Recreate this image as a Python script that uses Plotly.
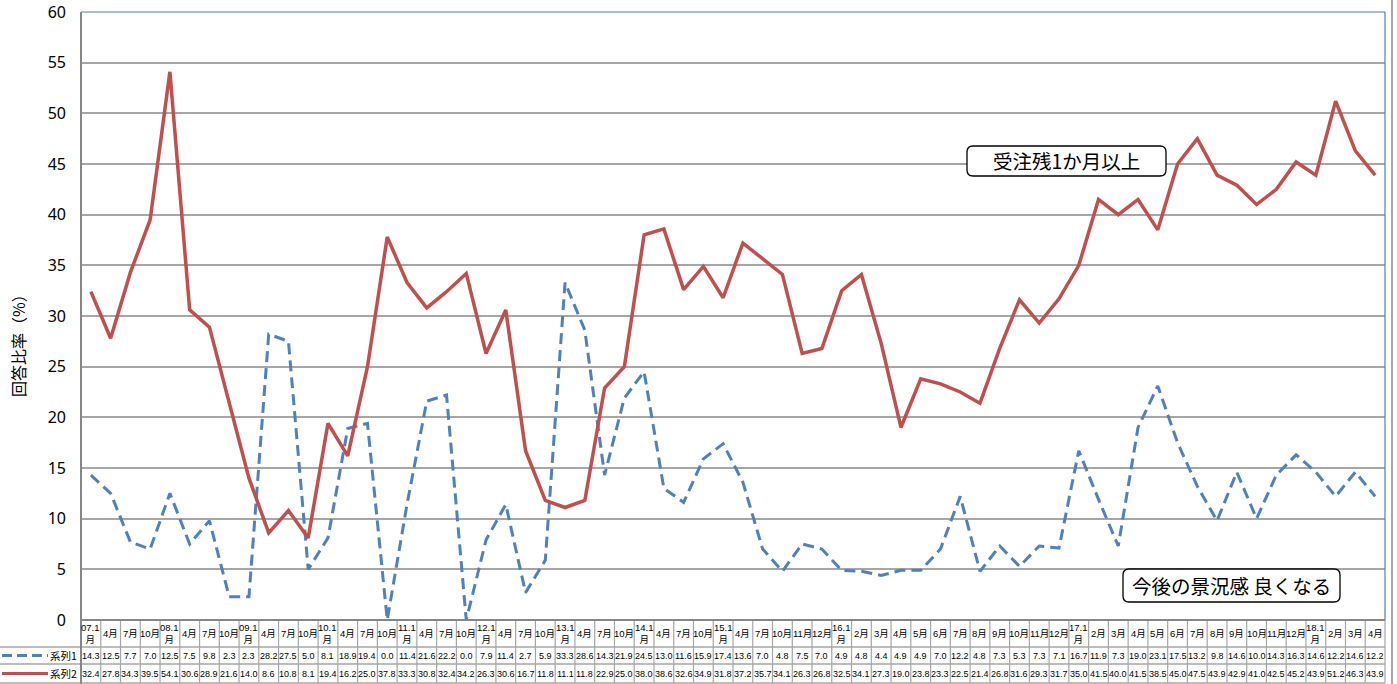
import plotly.graph_objects as go

categories = ["07.1月", "4月", "7月", "10月", "08.1月", "4月", "7月", "10月",
              "09.1月", "4月", "7月", "10月", "10.1月", "4月", "7月", "10月",
              "11.1月", "4月", "7月", "10月", "12.1月", "4月", "7月", "10月",
              "13.1月", "4月", "7月", "10月", "14.1月", "4月", "7月", "10月",
              "15.1月", "4月", "7月", "10月", "11月", "12月",
              "16.1月", "2月", "3月", "4月", "5月", "6月", "7月", "8月", "9月", "10月", "11月", "12月",
              "17.1月", "2月", "3月", "4月", "5月", "6月", "7月", "8月", "9月", "10月", "11月", "12月",
              "18.1月", "2月", "3月", "4月"]

series1 = [14.3, 12.5, 7.7, 7.0, 12.5, 7.5, 9.8, 2.3, 2.3, 28.2, 27.5, 5.0, 8.1, 18.9,
           19.4, 0.0, 11.4, 21.6, 22.2, 0.0, 7.9, 11.4, 2.7, 5.9, 33.3, 28.6, 14.3, 21.9,
           24.5, 13.0, 11.6, 15.9, 17.4, 13.6, 7.0, 4.8, 7.5, 7.0, 4.9, 4.8, 4.4, 4.9,
           4.9, 7.0, 12.2, 4.8, 7.3, 5.3, 7.3, 7.1, 16.7, 11.9, 7.3, 19.0, 23.1, 17.5,
           13.2, 9.8, 14.6, 10.0, 14.3, 16.3, 14.6, 12.2, 14.6, 12.2]

series2 = [32.4, 27.8, 34.3, 39.5, 54.1, 30.6, 28.9, 21.6, 14.0, 8.6, 10.8, 8.1, 19.4, 16.2,
           25.0, 37.8, 33.3, 30.8, 32.4, 34.2, 26.3, 30.6, 16.7, 11.8, 11.1, 11.8, 22.9, 25.0,
           38.0, 38.6, 32.6, 34.9, 31.8, 37.2, 35.7, 34.1, 26.3, 26.8, 32.5, 34.1, 27.3, 19.0,
           23.8, 23.3, 22.5, 21.4, 26.8, 31.6, 29.3, 31.7, 35.0, 41.5, 40.0, 41.5, 38.5, 45.0,
           47.5, 43.9, 42.9, 41.0, 42.5, 45.2, 43.9, 51.2, 46.3, 43.9]

series_names = ["系列1", "系列2"]
y_ticks = list(range(0, 61, 5))
label_top = "受注残1か月以上"
label_bottom = "今後の景況感 良くなる"
y_title = "回答比率（%）"

W, H = 1397, 684
L, R, T, B = 81, 1385, 12, 620
n = len(categories)
colw = (R - L) / n


def px(x):
    return (x - L) / (R - L)


def py(y):
    return (B - y) / (B - T)


BLUE = "#4F81BD"
RED = "#C0504D"
GRID = "#A6A6A6"
AXIS = "#868686"
TXT_FONT = "Liberation Sans, Noto Sans CJK JP, sans-serif"
JP_FONT = "Noto Sans CJK JP, sans-serif"

fig = go.Figure()
xs = list(range(n))
fig.add_trace(go.Scatter(x=xs, y=series1, mode="lines", name=series_names[0],
                         line=dict(color=BLUE, width=3, dash="11px,6px")))
fig.add_trace(go.Scatter(x=xs, y=series2, mode="lines", name=series_names[1],
                         line=dict(color=RED, width=3.5)))

shapes = []


def hline(y, x0, x1, color, width, dash=None):
    shapes.append(dict(type="line", xref="paper", yref="paper",
                       x0=px(x0), x1=px(x1), y0=py(y), y1=py(y),
                       line=dict(color=color, width=width, dash=dash), layer="above"))


def vline(x, y0, y1, color, width):
    shapes.append(dict(type="line", xref="paper", yref="paper",
                       x0=px(x), x1=px(x), y0=py(y0), y1=py(y1),
                       line=dict(color=color, width=width), layer="above"))


# table grid
for yy in (647, 664, 683):
    hline(yy, 0, R, GRID, 1.5)
for i in range(1, n + 1):
    vline(L + i * colw, 620, 683, GRID, 1.2)
# plot border (blue top/right)
hline(T, L, R, "#4A7EBB", 1.2)
vline(R, T, B, "#4A7EBB", 1.2)
# axes lines
vline(L, T, 684, AXIS, 2)
hline(B, L, R, AXIS, 2)
# outer chart border on right
vline(1392, 0, 684, GRID, 2)

# legend keys in table
for yy, col, dash in ((655.5, BLUE, "10px,5px"), (673.5, RED, None)):
    shapes.append(dict(type="line", xref="paper", yref="paper",
                       x0=px(2), x1=px(48), y0=py(yy), y1=py(yy),
                       line=dict(color=col, width=3, dash=dash), layer="above"))


def rrect(x0, y0, x1, y1, r):
    def P(x, y):
        return f"{px(x):.5f},{py(y):.5f}"
    return (f"M {P(x0 + r, y0)} L {P(x1 - r, y0)} Q {P(x1, y0)} {P(x1, y0 + r)} "
            f"L {P(x1, y1 - r)} Q {P(x1, y1)} {P(x1 - r, y1)} L {P(x0 + r, y1)} "
            f"Q {P(x0, y1)} {P(x0, y1 - r)} L {P(x0, y0 + r)} Q {P(x0, y0)} {P(x0 + r, y0)} Z")


for (x0, y0, x1, y1) in ((967, 146, 1166, 176), (1123, 569, 1340, 602)):
    shapes.append(dict(type="path", xref="paper", yref="paper", path=rrect(x0, y0, x1, y1, 6),
                       fillcolor="white", line=dict(color="#000000", width=1.3), layer="above"))

annotations = []
annotations.append(dict(text=label_top, xref="paper", yref="paper", x=px(1066.5), y=py(161),
                        showarrow=False, font=dict(family=JP_FONT, size=19.5, color="#000"),
                        xanchor="center", yanchor="middle"))
annotations.append(dict(text=label_bottom, xref="paper", yref="paper", x=px(1231.5), y=py(585.5),
                        showarrow=False, font=dict(family=JP_FONT, size=19.5, color="#000"),
                        xanchor="center", yanchor="middle"))
annotations.append(dict(text=y_title, xref="paper", yref="paper", x=px(18), y=py(342),
                        showarrow=False, textangle=-90, font=dict(family=JP_FONT, size=16, color="#000"),
                        xanchor="center", yanchor="middle"))

# table text
for i, cat in enumerate(categories):
    lab = cat.replace(".1月", ".1<br>月") if "." in cat else cat
    annotations.append(dict(text=lab, xref="x", yref="paper", x=i, y=py(633.5), showarrow=False,
                            font=dict(family=TXT_FONT, size=9.5, color="#000"),
                            xanchor="center", yanchor="middle"))
    annotations.append(dict(text=f"{series1[i]:.1f}", xref="x", yref="paper", x=i, y=py(655.5),
                            showarrow=False, font=dict(family=TXT_FONT, size=9, color="#000"),
                            xanchor="center", yanchor="middle"))
    annotations.append(dict(text=f"{series2[i]:.1f}", xref="x", yref="paper", x=i, y=py(673.5),
                            showarrow=False, font=dict(family=TXT_FONT, size=9, color="#000"),
                            xanchor="center", yanchor="middle"))

for yy, name in ((655.5, series_names[0]), (673.5, series_names[1])):
    annotations.append(dict(text=name, xref="paper", yref="paper", x=px(79), y=py(yy), showarrow=False,
                            font=dict(family=JP_FONT, size=10.5, color="#000"),
                            xanchor="right", yanchor="middle"))

fig.update_layout(
    width=W, height=H,
    margin=dict(l=L, r=W - R, t=T, b=H - B, pad=0, autoexpand=False),
    paper_bgcolor="white", plot_bgcolor="white",
    showlegend=False,
    xaxis=dict(range=[-0.5, n - 0.5], showgrid=False, zeroline=False, showline=False,
               showticklabels=False, ticks="", automargin=False),
    yaxis=dict(range=[0, 60], tickvals=y_ticks, ticktext=[str(v) for v in y_ticks],
               showgrid=True, gridcolor=GRID, gridwidth=1.5, zeroline=False, showline=False,
               ticks="", ticklabelstandoff=14, automargin=False,
               tickfont=dict(family="Noto Sans, Liberation Sans, sans-serif", size=16, color="#000")),
    shapes=shapes,
    annotations=annotations,
)

fig.write_html("out.html")
